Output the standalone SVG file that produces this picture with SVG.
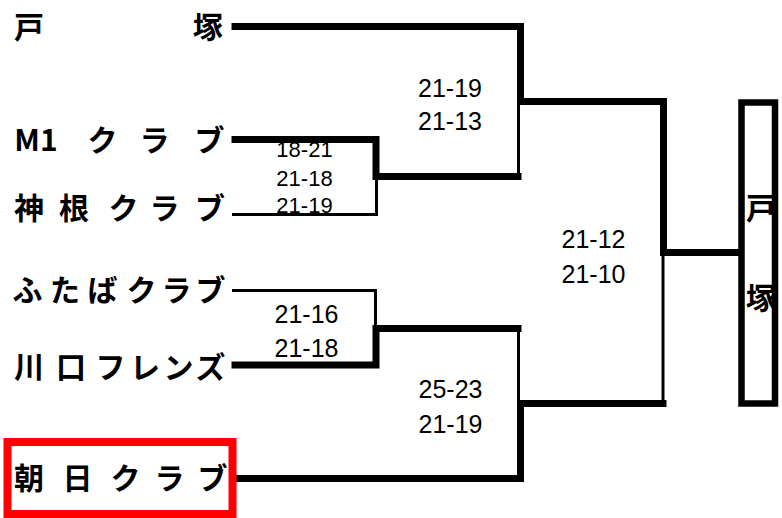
<svg xmlns="http://www.w3.org/2000/svg" width="782" height="518" viewBox="0 0 782 518">
<style>
.name{font-family:"Noto Sans CJK JP","Noto Sans CJK SC",sans-serif;font-weight:bold;font-size:30px;fill:#000;text-anchor:middle}
.score{font-family:"Liberation Sans",Arial,sans-serif;font-size:25px;fill:#000;text-anchor:middle}
.score-s{font-family:"Liberation Sans",Arial,sans-serif;font-size:22px;fill:#000;text-anchor:middle}
.thick{fill:none;stroke:#000;stroke-width:7;stroke-linecap:square;stroke-linejoin:miter}
.thin{fill:none;stroke:#000;stroke-width:3}
</style>
<rect width="782" height="518" fill="#fff"/>
<g id="scores">
<text class="score" x="450" y="97">21-19</text>
<text class="score" x="450" y="130">21-13</text>
<text class="score-s" x="304.5" y="157">18-21</text>
<text class="score-s" x="304.5" y="185.5">21-18</text>
<text class="score-s" x="304.5" y="213">21-19</text>
<text class="score" x="306.5" y="323">21-16</text>
<text class="score" x="306.5" y="357">21-18</text>
<text class="score" x="450.5" y="398">25-23</text>
<text class="score" x="450.5" y="433">21-19</text>
<text class="score" x="593.5" y="248">21-12</text>
<text class="score" x="593.5" y="283">21-10</text>
</g>
<g id="connectors">
<path class="thin" d="M232,214.5 H376.5 V178"/>
<path class="thin" d="M518.5,101 V178"/>
<path class="thin" d="M232,290.5 H375.5 V328"/>
<path class="thin" d="M518.5,328 V403"/>
<path class="thin" d="M663,253 V405"/>
<path class="thick" d="M235,26.5 H520.5 V101.5 H663.5 V252.5 H738"/>
<path class="thick" d="M235,139.5 H376 V176.5 H518"/>
<path class="thick" d="M235,365 H376 V328.5 H518"/>
<path class="thick" d="M235,478.5 H520.5 V403.5 H663"/>
</g>
<g id="team-totsuka">
<text class="name" x="29" y="37.5">戸</text>
<text class="name" x="208" y="37.5">塚</text>
</g>
<g id="team-m1">
<text class="name" x="36" y="151">M1</text>
<text class="name" x="102.5" y="151">ク</text>
<text class="name" x="154.5" y="151">ラ</text>
<text class="name" x="209.5" y="151">ブ</text>
</g>
<g id="team-kamine">
<text class="name" x="29" y="218.5">神</text>
<text class="name" x="74" y="218.5">根</text>
<text class="name" x="123.5" y="218.5">ク</text>
<text class="name" x="164.5" y="218.5">ラ</text>
<text class="name" x="210" y="218.5">ブ</text>
</g>
<g id="team-futaba">
<text class="name" x="27.5" y="300.5">ふ</text>
<text class="name" x="65" y="300.5">た</text>
<text class="name" x="102.5" y="300.5">ば</text>
<text class="name" x="141.5" y="300.5">ク</text>
<text class="name" x="176.5" y="300.5">ラ</text>
<text class="name" x="210.5" y="300.5">ブ</text>
</g>
<g id="team-kawaguchi">
<text class="name" x="29" y="377.5">川</text>
<text class="name" x="71" y="377.5">口</text>
<text class="name" x="110.5" y="377.5">フ</text>
<text class="name" x="145" y="377.5">レ</text>
<text class="name" x="178.5" y="377.5">ン</text>
<text class="name" x="210.5" y="377.5">ズ</text>
</g>
<g id="team-asahi">
<rect x="7.5" y="442" width="225" height="72" fill="none" stroke="#ff0000" stroke-width="8"/>
<text class="name" x="29" y="489">朝</text>
<text class="name" x="77.5" y="489">日</text>
<text class="name" x="125.5" y="489">ク</text>
<text class="name" x="169.5" y="489">ラ</text>
<text class="name" x="212.5" y="489">ブ</text>
</g>
<g id="champion">
<rect x="741.5" y="102.5" width="33.5" height="301" fill="none" stroke="#000" stroke-width="6.5"/>
<text class="name" x="761" y="218.5">戸</text>
<text class="name" x="761" y="308.5">塚</text>
</g>
</svg>
